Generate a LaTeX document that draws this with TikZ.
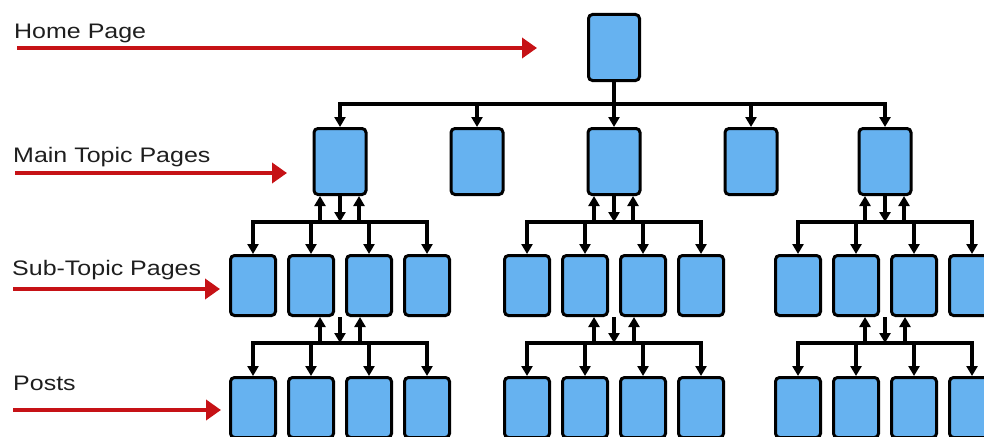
\documentclass[tikz,border=0pt]{standalone}
\usepackage{fontspec}
\setmainfont{Liberation Sans}
\newfontfamily\labelfont[FakeStretch=1.19]{Liberation Sans}
\usepackage{xcolor}
\usetikzlibrary{arrows.meta, calc}

\definecolor{pageblue}{RGB}{102,178,240}
\definecolor{levelred}{RGB}{198,18,22}
\definecolor{labelgray}{RGB}{30,30,30}

\begin{document}
\begin{tikzpicture}[x=1pt, y=-1pt,
  page/.style={draw, line width=3pt, rounded corners=4pt, fill=pageblue, inner sep=0pt},
  homepage/.style={page, minimum width=51pt, minimum height=66pt},
  mainpage/.style={page, minimum width=52pt, minimum height=66pt},
  subpage/.style={page, minimum width=45pt, minimum height=60pt},
  bus/.style={line width=3.6pt, line cap=rect},
  link/.style={line width=3.6pt, -{Triangle[length=10pt, width=11pt]}},
  level/.style={line width=4.5pt, levelred, -{Triangle[length=15pt, width=20pt]}},
  levellabel/.style={anchor=base west, inner sep=0pt, text=labelgray, font=\labelfont\fontsize{21}{24}\selectfont}]

\useasboundingbox (0,0) rectangle (984,436);
\clip (0,0) rectangle (984,436);

% Level labels
\node[levellabel] (homelbl) at (14,38)  {Home Page};
\node[levellabel] (mainlbl) at (13,162) {Main Topic Pages};
\node[levellabel] (sublbl)  at (12,275) {Sub-Topic Pages};
\node[levellabel] (postlbl) at (13,390) {Posts};

\coordinate (homefrom) at (17,48);   \coordinate (hometo) at (537,48);
\coordinate (mainfrom) at (15,173);  \coordinate (mainto) at (287,173);
\coordinate (subfrom)  at (13,289);  \coordinate (subto)  at (220,289);
\coordinate (postfrom) at (13,410);  \coordinate (postto) at (221,410);
\draw[level] (homefrom) -- (hometo);
\draw[level] (mainfrom) -- (mainto);
\draw[level] (subfrom)  -- (subto);
\draw[level] (postfrom) -- (postto);

% Home and main topic pages
\node[homepage] (home) at (614,47.5) {};
\node[mainpage] (m1) at (340,161.5) {};
\node[mainpage] (m2) at (477,161.5) {};
\node[mainpage] (m3) at (614,161.5) {};
\node[mainpage] (m4) at (751,161.5) {};
\node[mainpage] (m5) at (885,161.5) {};

\coordinate (hbus) at (614,104);
\draw[bus] (m1.north |- hbus) -- (m5.north |- hbus);
\draw[link] (home.south) -- (m3.north);
\foreach \i in {1,2,4,5}
  \draw[link] (m\i.north |- hbus) -- (m\i.north);

% Sub-topic pages and posts under main pages 1, 3, 5
\foreach \g/\cx in {1/340, 3/614, 5/885} {
  \foreach \k/\dx in {1/-87, 2/-29, 3/29, 4/87} {
    \node[subpage] (s\g\k) at ({\cx+\dx},285.5) {};
    \node[subpage] (p\g\k) at ({\cx+\dx},407.5) {};
  }

  % main -> sub
  \coordinate (sbus\g) at (\cx,222);
  \coordinate (supl\g) at ({\cx-20},222);
  \coordinate (supr\g) at ({\cx+19},222);
  \draw[bus] (s\g1.north |- sbus\g) -- (s\g4.north |- sbus\g);
  \foreach \k in {1,...,4}
    \draw[link] (s\g\k.north |- sbus\g) -- (s\g\k.north);
  \draw[link] (m\g.south) -- (sbus\g);
  \draw[link] (supl\g) -- (supl\g |- m\g.south);
  \draw[link] (supr\g) -- (supr\g |- m\g.south);

  % sub -> posts
  \coordinate (pbus\g) at (\cx,343);
  \coordinate (pupl\g) at ({\cx-20},343);
  \coordinate (pupr\g) at ({\cx+20},343);
  \draw[bus] (p\g1.north |- pbus\g) -- (p\g4.north |- pbus\g);
  \foreach \k in {1,...,4}
    \draw[link] (p\g\k.north |- pbus\g) -- (p\g\k.north);
  \draw[link] (pbus\g |- s\g2.south) -- (pbus\g);
  \draw[link] (pupl\g) -- (pupl\g |- s\g2.south);
  \draw[link] (pupr\g) -- (pupr\g |- s\g3.south);
}

\end{tikzpicture}
\end{document}
